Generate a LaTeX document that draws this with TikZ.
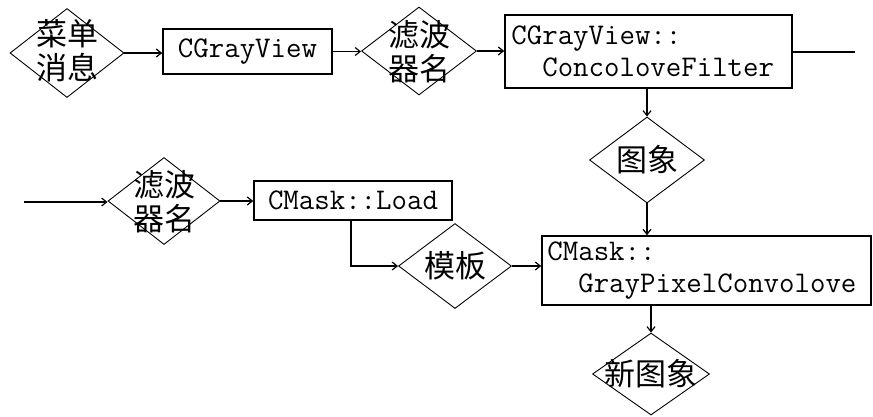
\documentclass[tikz,border=0pt]{standalone}
\usepackage{fontspec}
\newfontfamily\cjkfamily{Noto Sans CJK SC}
\usetikzlibrary{arrows.meta,shapes.geometric}
\newcommand\codefnt{\ttfamily\fontsize{30}{32}\selectfont}
\newcommand\cjkfnt{\cjkfamily\fontsize{31}{34}\selectfont}

\begin{document}
\begin{tikzpicture}[x=1pt,y=-1pt,
  every node/.style={inner sep=0pt},
  decision/.style={diamond, draw, line width=0.9pt},
  procbox/.style={rectangle, draw, line width=1.6pt, font=\codefnt},
  codetext/.style={font=\codefnt, align=left, anchor=west},
  cjktext/.style={font=\cjkfnt, align=center},
  flow/.style={line width=1.2pt, -{Straight Barb[length=5pt,width=8pt]}},
  plainline/.style={line width=1.2pt}]

\useasboundingbox (0,0) rectangle (873,416);

% top row
\node[decision, minimum width=114pt, minimum height=89pt] (d1) at (67,53) {};
\node[cjktext] (t1) at (67,51) {菜单\\消息};
\node[procbox, minimum width=169pt, minimum height=45pt] (b1) at (247.5,51.5) {CGrayView};
\node[decision, minimum width=115pt, minimum height=88pt] (d2) at (419,51) {};
\node[cjktext] (t2) at (419,52) {滤波\\器名};
\node[procbox, minimum width=287pt, minimum height=73pt] (b2) at (648.5,51.5) {};
\node[codetext] (t3) at ([xshift=7pt]b2.west) {CGrayView::\\\phantom{xx}ConcoloveFilter};
\coordinate (out) at (855,52);

% image diamond
\node[decision, minimum width=115pt, minimum height=86pt] (d3) at (647,160) {};
\node[cjktext] (t4) at (d3) {图象};

% second row
\coordinate (in) at (24,202);
\node[decision, minimum width=112pt, minimum height=87pt] (d4) at (164,201) {};
\node[cjktext] (t5) at (164,202) {滤波\\器名};
\node[procbox, minimum width=198pt, minimum height=39pt] (b3) at (353,200.5) {CMask::Load};
\node[decision, minimum width=113pt, minimum height=85pt] (d5) at (455,266) {};
\node[cjktext] (t6) at (d5) {模板};
\node[procbox, minimum width=329pt, minimum height=69pt] (b4) at (706.5,270.5) {};
\node[codetext] (t7) at ([xshift=6pt]b4.west) {CMask::\\\phantom{xx}GrayPixelConvolove};
\node[decision, minimum width=117pt, minimum height=82pt] (d6) at (651,374) {};
\node[cjktext] (t8) at (d6) {新图象};

% connectors
\draw[flow] (d1.east) -- (d1.east -| b1.west);
\draw[flow] (b1.east) -- (b1.east -| d2.west);
\draw[flow] (d2.east) -- (d2.east -| b2.west);
\draw[plainline] (b2.east |- out) -- (out);
\draw[flow] (d3.north |- b2.south) -- (d3.north);
\draw[flow] (d3.south) -- (d3.south |- b4.north);
\draw[flow] (in) -- (in -| d4.west);
\draw[flow] (d4.east) -- (d4.east -| b3.west);
\draw[flow] ([xshift=-2pt]b3.south) |- (d5.west);
\draw[flow] (d5.east) -- (d5.east -| b4.west);
\draw[flow] (d6.north |- b4.south) -- (d6.north);
\end{tikzpicture}
\end{document}
